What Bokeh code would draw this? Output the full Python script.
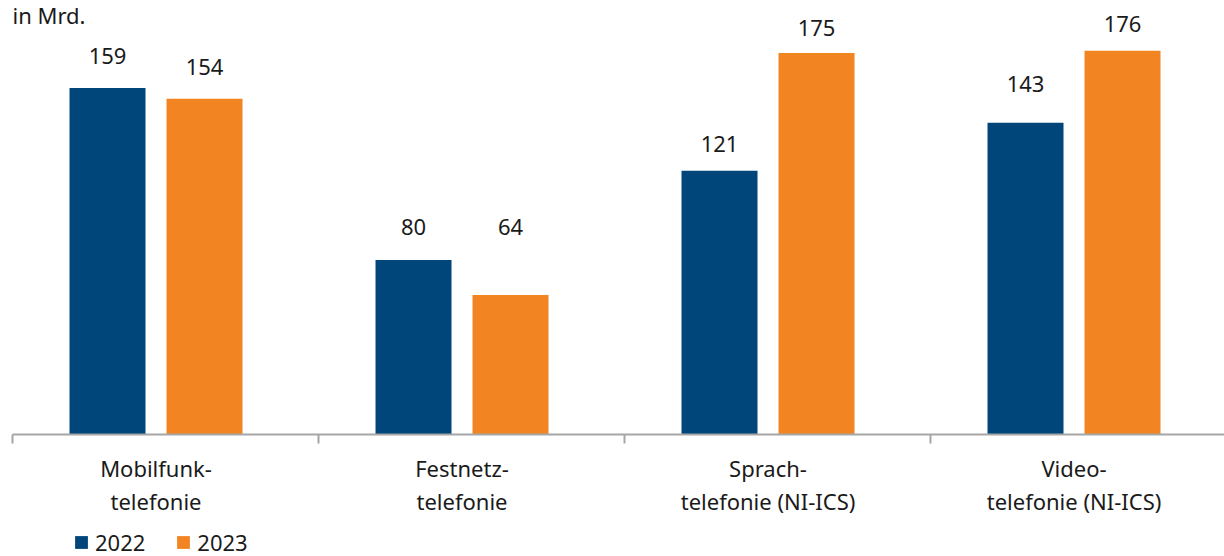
from bokeh.plotting import figure
from bokeh.layouts import column
from bokeh.models import Range1d, LinearAxis, FixedTicker, Legend, LegendItem, Label, ColumnDataSource
from bokeh.core.properties import value
from bokeh.embed import file_html
from bokeh.resources import INLINE

# ---- data ----
categories = ["Mobilfunk-\ntelefonie", "Festnetz-\ntelefonie",
              "Sprach-\ntelefonie (NI-ICS)", "Video-\ntelefonie (NI-ICS)"]
years = ["2022", "2023"]
values_2022 = [159, 80, 121, 143]
values_2023 = [154, 64, 175, 176]
unit_label = "in Mrd."

# label gaps above bars (px), as placed in the original
label_gap_2022 = [24, 25, 19, 31]
label_gap_2023 = [24, 60, 17, 19]

# ---- style ----
BLUE = "#00467A"
ORANGE = "#F28422"
TEXT = "#1a1a1a"
AXIS = "#A6A6A6"
FONT = "Noto Sans"

W = 1224
MAIN_H = 526
LEG_H = 30
CAT_PX = 306.0          # pixels per category
PX_PER_UNIT = 2.18      # pixels per value unit
LEFT = 12               # where the category axis starts
FRAME_H = 434

n = len(categories)
center_off = 0.469
half = 48.5 / CAT_PX
bar_w = 76 / CAT_PX
centers = [i + center_off for i in range(n)]
x0 = -LEFT / CAT_PX
x1 = x0 + W / CAT_PX

src = ColumnDataSource(dict(
    x1=[c - half for c in centers], x2=[c + half for c in centers],
    v1=values_2022, v2=values_2023,
    t1=[str(v) for v in values_2022], t2=[str(v) for v in values_2023],
    o1=[-(g + 8) for g in label_gap_2022], o2=[-(g + 8) for g in label_gap_2023],
))

p = figure(width=W, height=MAIN_H, output_backend="svg", toolbar_location=None,
           x_range=Range1d(x0, x1), y_range=Range1d(0, FRAME_H / PX_PER_UNIT),
           x_axis_type=None, y_axis_type=None,
           min_border_left=0, min_border_right=0, min_border_top=0,
           min_border_bottom=MAIN_H - FRAME_H)
p.outline_line_color = None
p.grid.visible = False
p.background_fill_color = "white"
p.border_fill_color = "white"

p.vbar(x="x1", top="v1", width=bar_w, source=src, color=BLUE, line_color=None)
p.vbar(x="x2", top="v2", width=bar_w, source=src, color=ORANGE, line_color=None)

for xs, ys, ts, os in (("x1", "v1", "t1", "o1"), ("x2", "v2", "t2", "o2")):
    p.text(x=xs, y=ys, text=ts, y_offset=os, source=src, text_align="center",
           text_baseline="alphabetic", text_font=value(FONT), text_font_size="22px",
           text_color=TEXT)

ax = LinearAxis(ticker=FixedTicker(ticks=centers, minor_ticks=list(range(n + 1))),
                major_label_overrides={c: lab for c, lab in zip(centers, categories)},
                bounds=(0, x1))
ax.axis_line_color = AXIS
ax.axis_line_width = 2
ax.major_tick_line_color = None
ax.major_tick_out = 0
ax.major_tick_in = 0
ax.minor_tick_line_color = AXIS
ax.minor_tick_line_width = 2
ax.minor_tick_out = 9
ax.minor_tick_in = 0
ax.major_label_standoff = 9
ax.major_label_text_font = FONT
ax.major_label_text_font_size = "22px"
ax.major_label_text_color = TEXT
ax.major_label_text_align = "center"
ax.major_label_text_line_height = 1.1
p.add_layout(ax, "below")

p.add_layout(Label(x=0, y=(FRAME_H - 14) / PX_PER_UNIT, text=unit_label,
                   text_font=FONT, text_font_size="22px", text_color=TEXT,
                   text_align="left", text_baseline="alphabetic"))

# ---- legend strip (same series, drawn outside its visible ranges) ----
q = figure(width=W, height=LEG_H, output_backend="svg", toolbar_location=None,
           x_range=Range1d(100, 101), y_range=Range1d(1000, 1001),
           x_axis_type=None, y_axis_type=None,
           min_border_left=0, min_border_right=0, min_border_top=0, min_border_bottom=0)
q.outline_line_color = None
q.grid.visible = False
l1 = q.vbar(x="x1", top="v1", width=bar_w, source=src, color=BLUE, line_color=None)
l2 = q.vbar(x="x2", top="v2", width=bar_w, source=src, color=ORANGE, line_color=None)
legend = Legend(items=[LegendItem(label=years[0], renderers=[l1], index=0),
                       LegendItem(label=years[1], renderers=[l2], index=0)],
                orientation="horizontal", location=(73, -1),
                padding=0, margin=0, spacing=30, glyph_width=16, glyph_height=16,
                label_standoff=6, label_text_font=FONT, label_text_font_size="22px",
                label_text_color=TEXT, border_line_color=None, background_fill_alpha=0)
q.add_layout(legend)

layout = column(p, q, spacing=0)
open("out.html", "w").write(file_html(layout, INLINE))
